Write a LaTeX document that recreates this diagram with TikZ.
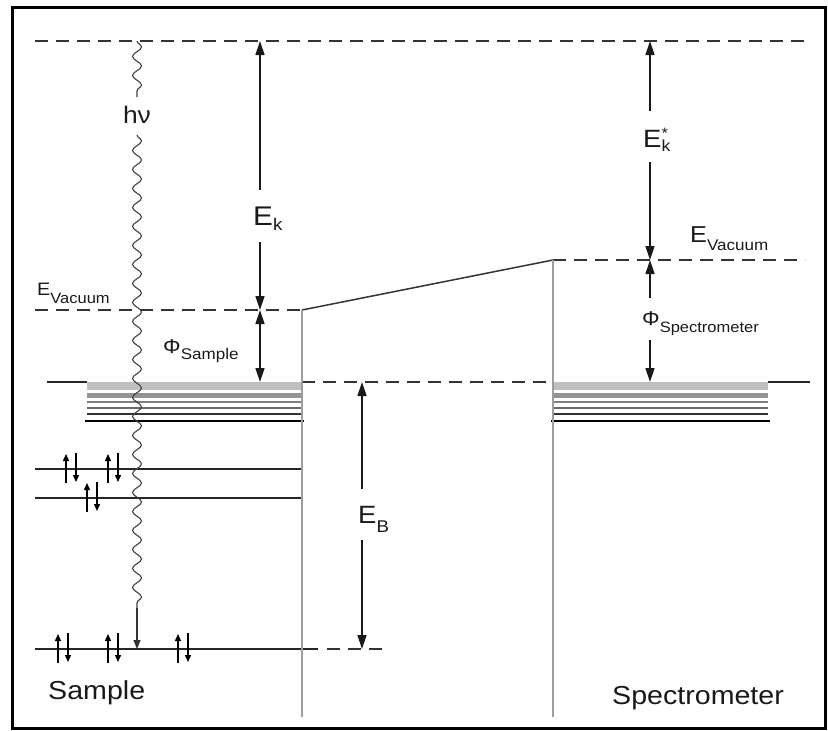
\documentclass[tikz,border=0pt]{standalone}
\usepackage{fontspec}
\setmainfont{Liberation Sans}
\usetikzlibrary{arrows.meta,decorations.pathmorphing}
\newcommand\fsz[2]{{\fontsize{#1}{#1}\selectfont #2}}
\newcommand\lowered[3]{\raisebox{-#1}{\fontsize{#2}{#2}\selectfont #3}}
\newcommand\wide[1]{\scalebox{1.1}[1]{#1}}
\begin{document}
\begin{tikzpicture}[x=1pt,y=-1pt,
  lvl/.style={line width=1.5pt,draw=black!85},
  dlvl/.style={line width=1.8pt,draw=black!80,dash pattern=on 13pt off 8pt},
  wall/.style={line width=2.4pt,draw=black!38},
  arr/.style={line width=1.4pt,draw=black!90,-{Triangle[length=14pt,width=9pt]}},
  dblarr/.style={line width=1.4pt,draw=black!90,{Triangle[length=14pt,width=9pt]}-{Triangle[length=14pt,width=9pt]}},
  smallarr/.style={line width=1.2pt,draw=black!80,-{Triangle[length=9pt,width=7pt]}},
  spinarr/.style={line width=1.4pt,-{Triangle[length=7pt,width=6pt]}},
  wavy/.style={line width=1.1pt,draw=black!75,decorate,decoration={snake,amplitude=4.5pt,segment length=19pt}},
  txt/.style={anchor=base west,inner sep=0pt,text=black!90},
]
\useasboundingbox (0,0) rectangle (828,731);
% frame
\draw[line width=3pt] (12,7) rectangle (825,728);

% energy levels
\coordinate (topL) at (35,41);   \coordinate (topR) at (805,41);
\coordinate (vacL0) at (35,310); \coordinate (vacL1) at (302,310);
\coordinate (vacR0) at (553,260); \coordinate (vacR1) at (805,260);
\draw[dlvl] (topL) -- (topR);
\draw[dlvl] (vacL0) -- (vacL1);
\draw[line width=1.5pt,draw=black!80] (vacL1) -- (vacR0);
\draw[dlvl] (vacR0) -- (vacR1);

% Fermi levels and bands
\coordinate (fA) at (47,382); \coordinate (fB) at (87,382);
\coordinate (fC) at (302,382); \coordinate (fD) at (553,382);
\coordinate (fE) at (768,382); \coordinate (fF) at (810,382);
\draw[lvl] (fA) -- (fB);
\draw[dlvl] (fC) -- (fD);
\draw[lvl] (fE) -- (fF);
\foreach \xa/\xb in {87/302,553/768}{
  \fill[black!25] (\xa,382) rectangle (\xb,390);
  \fill[black!42] (\xa,393) rectangle (\xb,398);
  \draw[black!50,line width=1.8pt] (\xa,402) -- (\xb,402);
  \draw[black!58,line width=1.4pt] (\xa,408) -- (\xb,408);
  \draw[black!80,line width=1.3pt] (\xa,414) -- (\xb,414);
  \draw[black,line width=1.3pt] (\xa-2,421) -- (\xb+2,421);
}

% core levels
\coordinate (c1a) at (35,469); \coordinate (c1b) at (302,469);
\coordinate (c2a) at (35,498); \coordinate (c2b) at (302,498);
\coordinate (c3a) at (35,649); \coordinate (c3b) at (318,649);
\coordinate (c3c) at (327,649); \coordinate (c3d) at (385,649);
\draw[lvl] (c1a) -- (c1b);
\draw[lvl] (c2a) -- (c2b);
\draw[lvl] (c3a) -- (c3b);
\draw[dlvl] (c3c) -- (c3d);

% walls
\coordinate (wL0) at (302,310); \coordinate (wL1) at (302,717);
\coordinate (wR0) at (553,260); \coordinate (wR1) at (553,717);
\draw[wall] (wL0) -- (wL1);
\draw[wall] (wR0) -- (wR1);

% spin pairs
\foreach \a/\b in {66/469,108/469,87/498,58/649,108/649,178/649}{
  \draw[spinarr] (\a,\b+14) -- (\a,\b-15);
  \draw[spinarr] (\a+10,\b-16) -- (\a+10,\b+13);
}

% photon
\node[anchor=base,inner sep=0pt,text=black!90] (hv) at (137,123) {\fsz{24}{\wide{hν}}};
\coordinate (hvTop) at (137,41); \coordinate (hvA) at (137,97);
\coordinate (hvB) at (137,135); \coordinate (hvC) at (137,608);
\coordinate (hvEnd) at (137,649);
\draw[wavy] (hvTop) -- (hvA);
\draw[wavy] (hvB) -- (hvC);
\draw[smallarr] (hvC) -- (hvEnd);

% E_k
\node[txt] (Ek) at (253,225) {\wide{\fsz{27}{E}\lowered{5pt}{17}{k}}};
\coordinate (EkTop) at (260,41); \coordinate (EkA) at (260,190);
\coordinate (EkB) at (260,242); \coordinate (EkBot) at (260,310);
\draw[arr] (EkA) -- (EkTop);
\draw[arr] (EkB) -- (EkBot);

% Phi sample
\node[txt] (Ps) at (163,353) {\wide{\fsz{20}{Φ}\lowered{6pt}{15.5}{Sample}}};
\coordinate (PsTop) at (260,310); \coordinate (PsBot) at (260,382);
\draw[dblarr] (PsTop) -- (PsBot);

% E vacuum left
\node[txt] (EvL) at (37,295) {\wide{\fsz{18}{E}\lowered{8pt}{15}{Vacuum}}};

% E_B
\node[txt] (EB) at (358,523) {\wide{\fsz{25}{E}\lowered{9pt}{17}{B}}};
\coordinate (EBTop) at (362,382); \coordinate (EBA) at (362,489);
\coordinate (EBB) at (362,540); \coordinate (EBBot) at (362,649);
\draw[arr] (EBA) -- (EBTop);
\draw[arr] (EBB) -- (EBBot);

% E_k*
\node[txt] (Eks) at (643,147) {\wide{\fsz{25}{E}\rlap{\raisebox{9pt}{\fsz{15}{*}}}\lowered{4pt}{16}{k}}};
\coordinate (EksTop) at (650,41); \coordinate (EksA) at (650,111);
\coordinate (EksB) at (650,162); \coordinate (EksBot) at (650,260);
\draw[arr] (EksA) -- (EksTop);
\draw[arr] (EksB) -- (EksBot);

% E vacuum right
\node[txt] (EvR) at (690,242) {\wide{\fsz{23}{E}\lowered{8pt}{15.5}{Vacuum}}};

% Phi spectrometer
\node[txt] (Psp) at (642,325) {\wide{\fsz{20}{Φ}\lowered{7pt}{15}{Spectrometer}}};
\coordinate (PspTop) at (650,260); \coordinate (PspA) at (650,298);
\coordinate (PspB) at (650,340); \coordinate (PspBot) at (650,382);
\draw[arr] (PspA) -- (PspTop);
\draw[arr] (PspB) -- (PspBot);

% bottom labels
\node[txt] (sample) at (48,699) {\wide{\fsz{26}{Sample}}};
\node[txt] (spec) at (612,704) {\wide{\fsz{26}{Spectrometer}}};
\end{tikzpicture}
\end{document}
